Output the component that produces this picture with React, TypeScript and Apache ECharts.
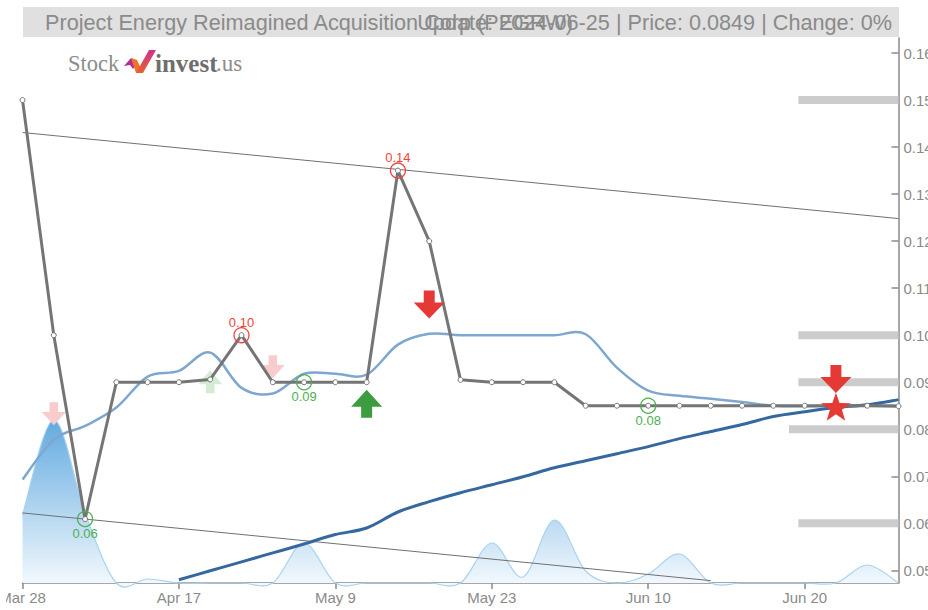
import React, { useEffect, useRef } from "react";
import * as echarts from "echarts";

const titleLeft = "Project Energy Reimagined Acquisition Corp (PEGRW)";
const titleRight = "Update: 2024-06-25 | Price: 0.0849 | Change: 0%";
const xTickLabels = ["Mar 28", "Apr 17", "May 9", "May 23", "Jun 10", "Jun 20"];
const xTickStep = 5;
const lastIndex = 28;

const price = [0.15, 0.1, 0.0609, 0.09, 0.09, 0.09, 0.0906, 0.1, 0.09, 0.09, 0.09, 0.09, 0.135, 0.12, 0.0905, 0.09, 0.09, 0.09, 0.085, 0.085, 0.085, 0.085, 0.085, 0.085, 0.085, 0.085, 0.085, 0.085, 0.0849];
const shortAverage = [0.0693, 0.0778, 0.0807, 0.0846, 0.0912, 0.0924, 0.0963, 0.0888, 0.0876, 0.0918, 0.0918, 0.0916, 0.098, 0.1003, 0.1, 0.1, 0.1, 0.1, 0.1002, 0.0931, 0.0882, 0.0871, 0.0865, 0.0858, 0.085, 0.0849, 0.085, 0.0851, 0.085];
const longAverage = [null, null, null, null, null, 0.048, 0.0499, 0.0518, 0.0537, 0.0556, 0.0576, 0.059, 0.0624, 0.0646, 0.0665, 0.0682, 0.0699, 0.0718, 0.0733, 0.0748, 0.0763, 0.078, 0.0795, 0.081, 0.0827, 0.0837, 0.0846, 0.0852, 0.0863];
const volume = [68, 163, 70, 0, 4, 0, 0, 0, 0, 40, 0, 0, 0, 0, 0, 40, 6, 63, 12, 0, 9, 29, 0, 0, 0, 0, 0, 18, 0];

const upperTrend = [[0, 0.1431], [28, 0.1248]];
const lowerTrend = [[0, 0.0622], [22, 0.0478]];

const levels = [[24.8, 0.15], [24.8, 0.1], [24.8, 0.09], [24.5, 0.08], [24.8, 0.06]];

const highs = [[7, 0.1, "0.10"], [12, 0.135, "0.14"]];
const lows = [[2, 0.0609, "0.06"], [9, 0.09, "0.09"], [20, 0.085, "0.08"]];

const paleDown = [[1, 0.0833], [8, 0.0933]];
const paleUp = [[6, 0.0901]];
const strongUp = [[11, 0.0854]];
const strongDown = [[13, 0.1065], [26, 0.0907]];
const star = [[26, 0.0848]];

const arrowUp = "path://M15.5 0 L31 17 L21 17 L21 28 L10 28 L10 17 L0 17 Z";
const arrowDown = "path://M10 0 L21 0 L21 12 L31 12 L15.5 28 L0 12 L10 12 Z";
const starPath = "path://M50 0 L62 35 L100 36 L70 58 L81 95 L50 73 L19 95 L30 58 L0 36 L38 35 Z";

const FONT = "Liberation Sans";
const GREY = "#8a8a8a";

function curvePath(p: number[][]) {
  let d = `M${p[0][0]} ${p[0][1]}`;
  for (let i = 0; i < p.length - 1; i++) {
    const a = p[Math.max(i - 1, 0)], b = p[i], c = p[i + 1], e = p[Math.min(i + 2, p.length - 1)];
    const c1 = [b[0] + (c[0] - a[0]) / 6, b[1] + (c[1] - a[1]) / 6];
    const c2 = [c[0] - (e[0] - b[0]) / 6, c[1] - (e[1] - b[1]) / 6];
    d += ` C${c1[0]} ${c1[1]} ${c2[0]} ${c2[1]} ${c[0]} ${c[1]}`;
  }
  return d;
}

export default function App() {
  const ref = useRef<HTMLDivElement>(null);
  useEffect(() => {
    const chart = echarts.init(ref.current!, undefined, { renderer: "svg" });
    const withIndex = (a: any[]) => a.map((v, i) => [i, v]);
    const markerSeries = (data: any[], symbol: string, size: any, color: string, z: number) => ({
      type: "scatter", data, symbol, symbolSize: size, z, clip: false, silent: true,
      itemStyle: { color, opacity: 1 },
    });
    const circleSeries = (data: any[], color: string, textColor: string, position: string, distance: number) => ({
      type: "scatter", data, symbol: "circle", symbolSize: 15, z: 8, silent: true,
      itemStyle: { color: "rgba(255,255,255,0)", borderColor: color, borderWidth: 1.3, opacity: 1 },
      label: {
        show: true, position, distance, color: textColor, fontSize: 13, fontFamily: FONT,
        formatter: (p: any) => p.data[2],
      },
    });
    const curveSeries = (values: any[], stroke: string, width: number, z: number, yAxisIndex = 0, fill?: any) => {
      const data = withIndex(values).filter((d) => d[1] != null);
      return {
        type: "custom", coordinateSystem: "cartesian2d", xAxisIndex: 0, yAxisIndex, data, z, clip: false, silent: true,
        encode: { x: 0, y: 1 },
        renderItem: (params: any, api: any) => {
          if (params.dataIndex !== 0) return undefined;
          const pts = data.map((d) => api.coord(d));
          const line = curvePath(pts);
          const children: any[] = [];
          if (fill) {
            const first = api.coord([data[0][0], 0]);
            const last = api.coord([data[data.length - 1][0], 0]);
            children.push({
              type: "path", shape: { pathData: `${line} L${last[0]} ${last[1]} L${first[0]} ${first[1]} Z` },
              style: { fill, stroke: null },
            });
          }
          children.push({
            type: "path", shape: { pathData: line },
            style: { fill: "none", stroke, lineWidth: width },
          });
          return { type: "group", children };
        },
      };
    };
    chart.setOption({
      animation: false,
      title: [
        { text: titleLeft, left: 45, top: 11, padding: 0, textStyle: { color: GREY, fontSize: 21.67, fontWeight: "normal", fontFamily: FONT } },
        { text: titleRight, right: 36, top: 11, padding: 0, textStyle: { color: GREY, fontSize: 21.67, fontWeight: "normal", fontFamily: FONT } },
      ],
      graphic: [
        { type: "rect", z: -10, shape: { x: 23, y: 7, width: 876, height: 30 }, style: { fill: "#e0e0e0" } },
        { type: "text", x: 68, y: 52, style: { text: "Stock", fill: "#8c8c8c", font: "22.5px 'Liberation Serif'" } },
        { type: "text", x: 155, y: 51, style: { text: "invest", fill: "#6e6e6e", font: "bold 25px 'Liberation Serif'" } },
        { type: "text", x: 216, y: 52, style: { text: ".us", fill: "#8c8c8c", font: "23px 'Liberation Serif'" } },
        { type: "polygon", shape: { points: [[124, 66], [131, 58], [138, 62], [133, 69], [130, 65]] }, style: { fill: "#b0309a" } },
        { type: "polygon", shape: { points: [[131, 58], [137, 60], [143, 73], [136, 73]] }, style: { fill: "#f0722a" } },
        {
          type: "polygon", shape: { points: [[149, 50], [156, 50], [143, 73], [136, 73]] },
          style: { fill: new echarts.graphic.LinearGradient(0, 0, 0, 1, [{ offset: 0, color: "#d0308f" }, { offset: 1, color: "#e8622c" }]) },
        },
      ],
      grid: { left: 22.5, right: 29.5, top: 38, bottom: 27, outerBoundsMode: "none" },
      xAxis: {
        type: "value", min: 0, max: lastIndex, interval: xTickStep,
        splitLine: { show: false },
        axisLine: { show: true, lineStyle: { color: GREY, width: 1.5 } },
        axisTick: { show: true, length: 6, lineStyle: { color: GREY, width: 1.5 } },
        axisLabel: {
          color: GREY, fontSize: 15, fontFamily: FONT, margin: 7, hideOverlap: false,
          showMinLabel: true, showMaxLabel: false,
          formatter: (v: number) => xTickLabels[v / xTickStep] ?? "",
        },
      },
      yAxis: [
        {
          type: "value", position: "right", min: 0.0473, max: 0.1632, splitNumber: 11,
          splitLine: { show: false }, scale: true,
          axisLine: { show: true, onZero: false, lineStyle: { color: GREY, width: 1.5 } },
          axisTick: { show: true, inside: true, length: 7, lineStyle: { color: GREY, width: 1.5 } },
          axisLabel: {
            color: GREY, fontSize: 15, fontFamily: FONT, margin: 5, showMinLabel: false, showMaxLabel: false,
            formatter: (v: number) => (Math.abs(v * 100 - Math.round(v * 100)) < 1e-6 ? v.toFixed(2) : ""),
          },
        },
        { type: "value", min: 0, max: 545, show: false },
      ],
      series: [
        ...levels.map(([start, v]) => ({
          type: "line", data: [[start, v], [lastIndex, v]], symbol: "none", z: 1, silent: true,
          lineStyle: { color: "#cccccc", width: 8, cap: "butt" },
        })),
        curveSeries(volume, "#a8d2f0", 1.2, 2, 1, new echarts.graphic.LinearGradient(0, 420, 0, 583, [
          { offset: 0, color: "#62aae0" },
          { offset: 1, color: "#f2f8fd" },
        ], true)),
        { type: "line", data: upperTrend, symbol: "none", z: 3, silent: true, lineStyle: { color: "#707070", width: 1 } },
        { type: "line", data: lowerTrend, symbol: "none", z: 3, silent: true, lineStyle: { color: "#707070", width: 1 } },
        markerSeries(paleDown, arrowDown, [24, 23], "#f8cccc", 4),
        markerSeries(paleUp, arrowUp, [24, 23], "#d4ebd4", 4),
        curveSeries(shortAverage, "#7da7cf", 2.5, 5),
        curveSeries(longAverage, "#35689f", 3, 6),
        {
          type: "line", data: withIndex(price), symbol: "circle", symbolSize: 5, showAllSymbol: true, z: 7, clip: false, silent: true,
          lineStyle: { color: "#757575", width: 3 },
          itemStyle: { color: "#ffffff", borderColor: "#757575", borderWidth: 1 },
        },
        circleSeries(highs, "#ef4444", "#f44336", "top", -2),
        circleSeries(lows, "#4caf50", "#4caf50", "bottom", 0),
        markerSeries(strongUp, arrowUp, [31, 28], "#3d9c40", 9),
        markerSeries(strongDown, arrowDown, [31, 28], "#e53935", 9),
        markerSeries(star, starPath, [30, 28], "#e53935", 9),
      ],
    });
    return () => chart.dispose();
  }, []);
  return (
    <div
      ref={ref}
      style={{ position: "fixed", left: 0, top: 0, width: 928, height: 610, clipPath: "inset(0 0 0 6px)", background: "#fff" }}
    />
  );
}
